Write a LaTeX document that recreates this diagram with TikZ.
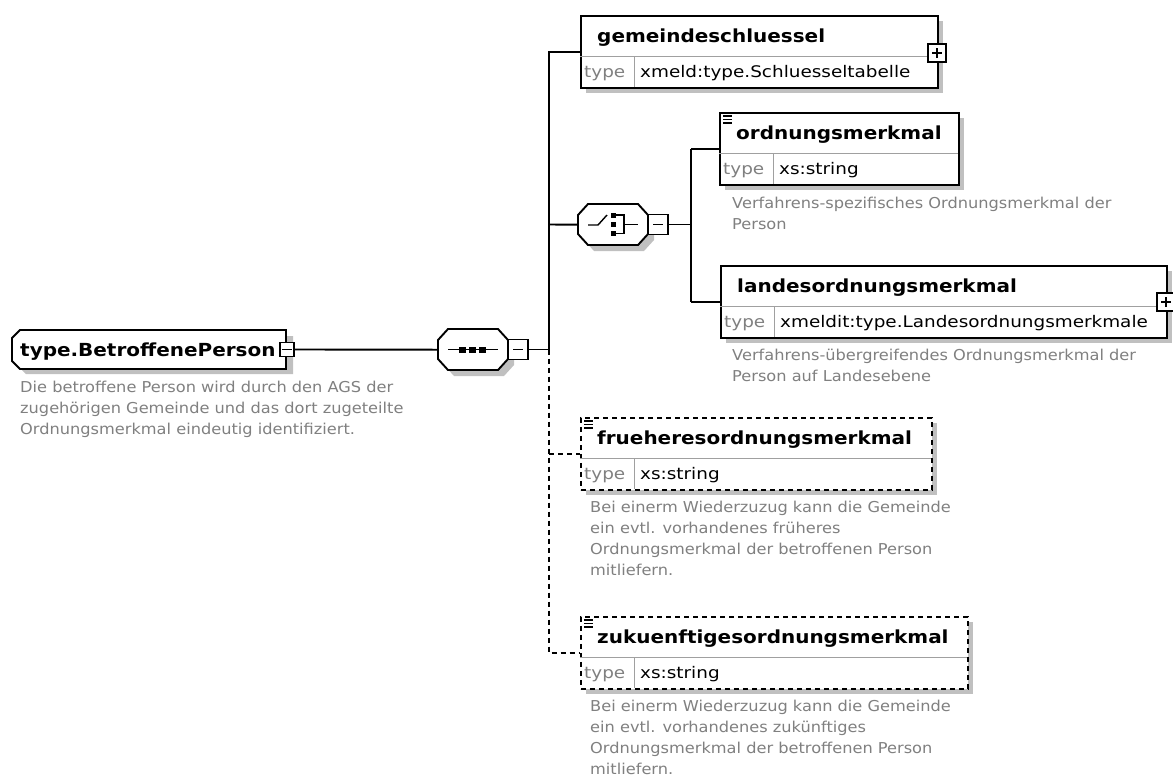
\documentclass[tikz,border=0pt]{standalone}
\usepackage{fontspec}
\setmainfont{DejaVu Sans}
\newfontfamily\ttlf[FakeStretch=1.11]{DejaVu Sans}
\newfontfamily\typf[FakeStretch=1.15]{DejaVu Sans}
\newfontfamily\dscf[FakeStretch=1.08]{DejaVu Sans}
\definecolor{shd}{HTML}{C0C0C0}
\definecolor{gtxt}{HTML}{808080}
\definecolor{sepc}{HTML}{A0A0A0}
\newcommand\octo[4]{(#1+10,#2) -- (#3-10,#2) -- (#3,#2+11) -- (#3,#4-11) -- (#3-10,#4) -- (#1+10,#4) -- (#1,#4-11) -- (#1,#2+11) -- cycle}
\newcommand\pmminus[1]{\draw[line width=1.4pt] ([xshift=-5pt]#1.center) -- ([xshift=5pt]#1.center);}
\newcommand\pmplus[1]{\pmminus{#1}\draw[line width=1.4pt] ([yshift=-5pt]#1.center) -- ([yshift=5pt]#1.center);}
% #1 name, #2 x, #3 top, #4 width, #5 style, #6 title, #7 type, #8 icon (1/0)
\newcommand\xelem[8]{%
  \fill[shd] (#2+6,#3+6) rectangle (#2+#4+6,#3+78);
  \node[#5, minimum width=#4pt, minimum height=72pt] (#1) at (#2,#3) {};
  \draw[sepline] (#2,#3+41) -- (#2+#4,#3+41);
  \draw[sepline] (#2+54,#3+41) -- (#2+54,#3+72);
  \node[ttltext] (#1t) at (#2+17,#3+27) {#6};
  \node[typetext, text=gtxt] (#1k) at (#2+4,#3+62) {type};
  \node[typetext] (#1v) at (#2+60,#3+62) {#7};
  \ifnum#8=1
    \draw[line width=1.2pt] (#2+4,#3+4) -- (#2+13,#3+4) (#2+4,#3+7.5) -- (#2+13,#3+7.5) (#2+4,#3+11) -- (#2+13,#3+11);
  \fi
}
\begin{document}
\begin{tikzpicture}[x=1pt,y=-1pt,
  conn/.style={line width=1.9pt, black},
  dconn/.style={conn, dash pattern=on 5pt off 4pt},
  ebox/.style={draw, line width=1.9pt, fill=white, inner sep=0pt, anchor=north west},
  dbox/.style={ebox, dash pattern=on 5pt off 4pt},
  inv/.style={inner sep=0pt, anchor=north west},
  sepline/.style={line width=1pt, sepc},
  ttltext/.style={anchor=base west, inner sep=0pt, font=\ttlf\bfseries\fontsize{18}{20}\selectfont},
  typetext/.style={anchor=base west, inner sep=0pt, font=\typf\fontsize{16}{18}\selectfont},
  desc/.style={anchor=north west, inner sep=0pt, align=left, text=gtxt, font=\dscf\fontsize{15}{21}\selectfont},
  pm/.style={draw, line width=1.5pt, fill=white, inner sep=0pt, minimum size=20pt}
]
\fill[white] (0,0) rectangle (1173,780);
\useasboundingbox (0,0) rectangle (1173,780);

% root complex type
\fill[shd] (26,336) -- (293,336) -- (293,374) -- (26,374) -- (18,366) -- (18,344) -- cycle;
\draw[conn, fill=white] (20,330) -- (286,330) -- (286,369) -- (20,369) -- (12,361) -- (12,338) -- cycle;
\node[inv, minimum width=274pt, minimum height=39pt] (root) at (12,330) {};
\node[ttltext] (roott) at (20,356) {type.BetroffenePerson};
\node[pm, minimum size=14pt] (rootpm) at (287,349.5) {};
\pmminus{rootpm}
\node[desc] (rootd) at (20,381) {Die betroffene Person wird durch den AGS der\\zugehörigen Gemeinde und das dort zugeteilte\\Ordnungsmerkmal eindeutig identifiziert.};

% sequence compositor
\fill[shd] \octo{444}{335}{514}{376};
\draw[conn, fill=white] \octo{438}{329}{508}{370};
\node[inv, minimum width=70pt, minimum height=41pt] (seq) at (438,329) {};
\draw[line width=1.4pt] (448,349.5) -- (498,349.5);
\fill (459,346.5) rectangle (466,352.5);
\fill (469,346.5) rectangle (476,352.5);
\fill (479,346.5) rectangle (486,352.5);
\node[pm] (seqpm) at (518,349.5) {};
\pmminus{seqpm}

% choice compositor
\fill[shd] \octo{584}{210}{654}{251};
\draw[conn, fill=white] \octo{578}{204}{648}{245};
\node[inv, minimum width=70pt, minimum height=41pt] (cho) at (578,204) {};
\draw[line width=1.4pt] (588,225) -- (598,225) -- (607,215);
\fill (610.5,212.5) rectangle (615.5,217.5);
\fill (610.5,222) rectangle (615.5,227);
\fill (610.5,231) rectangle (615.5,236);
\draw[line width=1.4pt] (616,215) -- (624,215) -- (624,233.5) -- (616,233.5);
\draw[line width=1.4pt] (624,224.5) -- (638,224.5);
\node[pm] (chopm) at (658,224.5) {};
\pmminus{chopm}

% elements
\xelem{gs}{580}{15}{357}{ebox}{gemeindeschluessel}{xmeld:type.Schluesseltabelle}{0}
\node[pm, minimum size=18pt] (gspm) at (937,53) {};
\pmplus{gspm}

\xelem{ord}{719}{112}{239}{ebox}{ordnungsmerkmal}{xs:string}{1}
\node[desc] (ordd) at (732,197) {Verfahrens-spezifisches Ordnungsmerkmal der\\Person};

\xelem{lan}{720}{265}{446}{ebox}{landesordnungsmerkmal}{xmeldit:type.Landesordnungsmerkmale}{0}
\node[pm, minimum size=18pt] (lanpm) at (1166,302) {};
\pmplus{lanpm}
\node[desc] (land) at (732,349) {Verfahrens-übergreifendes Ordnungsmerkmal der\\Person auf Landesebene};

\xelem{fr}{580}{417}{351}{dbox}{frueheresordnungsmerkmal}{xs:string}{1}
\node[desc] (frd) at (590,501) {Bei einerm Wiederzuzug kann die Gemeinde\\ein evtl. vorhandenes früheres\\Ordnungsmerkmal der betroffenen Person\\mitliefern.};

\xelem{zk}{580}{616}{387}{dbox}{zukuenftigesordnungsmerkmal}{xs:string}{1}
\node[desc] (zkd) at (590,700) {Bei einerm Wiederzuzug kann die Gemeinde\\ein evtl. vorhandenes zukünftiges\\Ordnungsmerkmal der betroffenen Person\\mitliefern.};

% connectors
\coordinate (tr0) at (549,349.5);
\coordinate (tgs) at (549,52);
\coordinate (tch) at (549,224.5);
\coordinate (tfr) at (549,454);
\coordinate (tzk) at (549,653);
\coordinate (c0) at (691,224.5);
\coordinate (cord) at (691,149);
\coordinate (clan) at (691,302);

\draw[conn] (rootpm.east) -- (seq.west);
\draw[conn] (seqpm.east) -- (tr0);
\draw[conn] (tr0) -- (tgs) -- (tgs -| gs.west);
\draw[conn] (tch) -- (cho.west);
\draw[dconn] (tr0) -- (tzk) -- (tzk -| zk.west);
\draw[dconn] (tfr) -- (tfr -| fr.west);
\draw[conn] (chopm.east) -- (c0);
\draw[conn] (cord) -- (clan);
\draw[conn] (cord) -- (cord -| ord.west);
\draw[conn] (clan) -- (clan -| lan.west);
\end{tikzpicture}
\end{document}
